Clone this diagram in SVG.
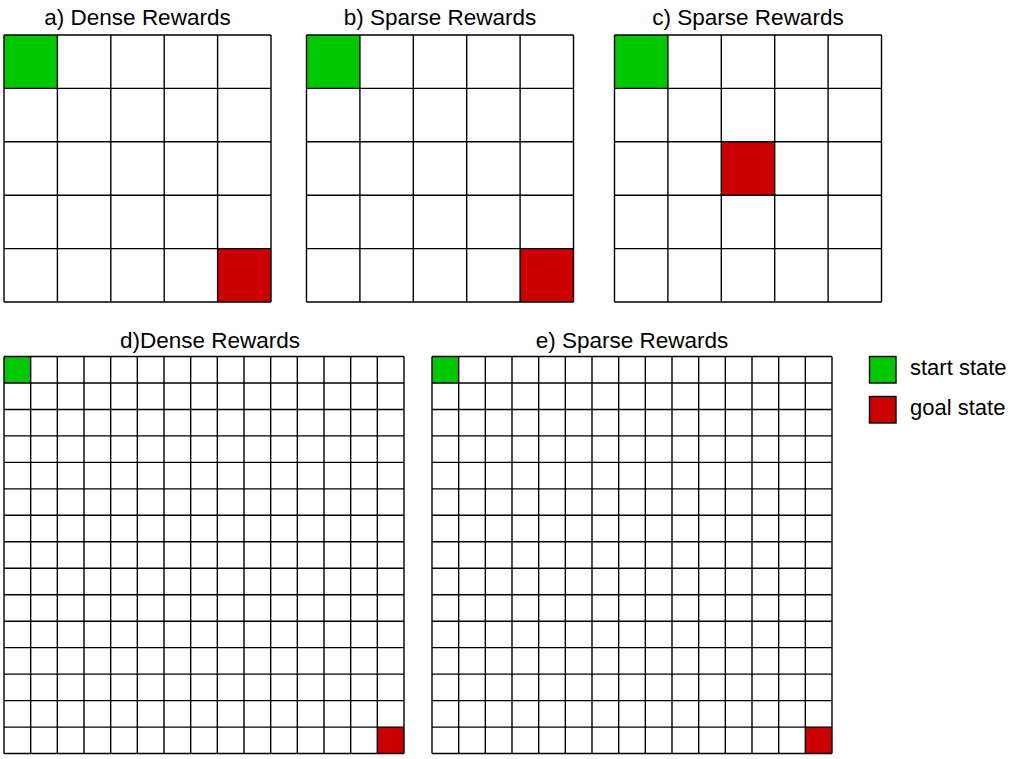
<svg xmlns="http://www.w3.org/2000/svg" xmlns:xlink="http://www.w3.org/1999/xlink" width="1012" height="759" viewBox="0 0 1012 759">
<style>
.t{font-family:"Liberation Sans",Arial,sans-serif;font-size:22.5px;fill:#000;text-anchor:middle}
.l{font-family:"Liberation Sans",Arial,sans-serif;font-size:22px;fill:#000}
.g{fill:none;stroke:#000;stroke-width:1.4}
.start{fill:#00c800}
.goal{fill:#cc0000}
.key{stroke:#000;stroke-width:1.4}
</style>
<defs>
<path id="grid5" class="g" d="M0 0V267M53.4 0V267M106.8 0V267M160.2 0V267M213.6 0V267M267 0V267M0 0H267M0 53.4H267M0 106.8H267M0 160.2H267M0 213.6H267M0 267H267"/>
<path id="grid15" class="g" d="M0 0V397M26.67 0V397M53.33 0V397M80 0V397M106.67 0V397M133.33 0V397M160 0V397M186.67 0V397M213.33 0V397M240 0V397M266.67 0V397M293.33 0V397M320 0V397M346.67 0V397M373.33 0V397M400 0V397M0 0H400M0 26.47H400M0 52.94H400M0 79.41H400M0 105.88H400M0 132.35H400M0 158.82H400M0 185.29H400M0 211.76H400M0 238.23H400M0 264.7H400M0 291.17H400M0 317.64H400M0 344.11H400M0 370.58H400M0 397H400"/>
</defs>
<rect width="1012" height="759" fill="#fff"/>
<g id="grid-a">
<text class="t" x="137.5" y="25">a) Dense Rewards</text>
<g transform="translate(4,35)">
<rect class="start" x="0" y="0" width="53.4" height="53.4"/>
<rect class="goal" x="213.6" y="213.6" width="53.4" height="53.4"/>
<use xlink:href="#grid5"/>
</g>
</g>
<g id="grid-b">
<text class="t" x="440" y="25">b) Sparse Rewards</text>
<g transform="translate(306.5,35)">
<rect class="start" x="0" y="0" width="53.4" height="53.4"/>
<rect class="goal" x="213.6" y="213.6" width="53.4" height="53.4"/>
<use xlink:href="#grid5"/>
</g>
</g>
<g id="grid-c">
<text class="t" x="748" y="25">c) Sparse Rewards</text>
<g transform="translate(614.5,35)">
<rect class="start" x="0" y="0" width="53.4" height="53.4"/>
<rect class="goal" x="106.8" y="106.8" width="53.4" height="53.4"/>
<use xlink:href="#grid5"/>
</g>
</g>
<g id="grid-d">
<text class="t" x="210" y="348">d)Dense Rewards</text>
<g transform="translate(4,356.5)">
<rect class="start" x="0" y="0" width="26.67" height="26.47"/>
<rect class="goal" x="373.33" y="370.58" width="26.67" height="26.42"/>
<use xlink:href="#grid15"/>
</g>
</g>
<g id="grid-e">
<text class="t" x="632" y="348">e) Sparse Rewards</text>
<g transform="translate(432,356.5)">
<rect class="start" x="0" y="0" width="26.67" height="26.47"/>
<rect class="goal" x="373.33" y="370.58" width="26.67" height="26.42"/>
<use xlink:href="#grid15"/>
</g>
</g>
<g id="legend-start">
<rect class="start key" x="869.5" y="356.5" width="26.5" height="26.5"/>
<text class="l" x="910" y="375">start state</text>
</g>
<g id="legend-goal">
<rect class="goal key" x="869.5" y="396.5" width="26.5" height="26.5"/>
<text class="l" x="910" y="415">goal state</text>
</g>
<g id="connectors"/>
</svg>
